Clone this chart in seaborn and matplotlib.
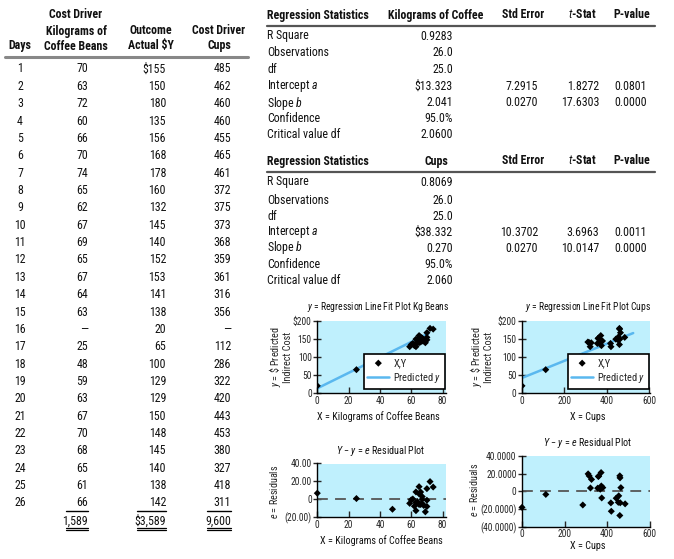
import matplotlib

matplotlib.use("Agg")

import matplotlib.pyplot as plt
import numpy as np
import pandas as pd
import seaborn as sns
from matplotlib import font_manager
from matplotlib.lines import Line2D

# ---- data -------------------------------------------------------------
days = list(range(1, 27))
kg_beans = [70, 63, 72, 60, 66, 70, 74, 65, 62, 67, 69, 65, 67,
            64, 63, 0, 25, 48, 59, 63, 67, 70, 68, 65, 61, 66]
outcome = [155, 150, 180, 135, 156, 168, 178, 160, 132, 145, 140, 152, 153,
           141, 138, 20, 65, 100, 129, 129, 150, 148, 145, 140, 138, 142]
cups = [485, 462, 460, 460, 455, 465, 461, 372, 375, 373, 368, 359, 361,
        316, 356, 0, 112, 286, 322, 420, 443, 453, 380, 327, 418, 311]

kg_resid = [-1.2, 8.1, 19.7, -0.8, 8.0, 11.8, 13.6, 14.0, -7.9, -5.1, -14.2, 6.0, 2.9,
            -3.0, -3.9, 6.7, 0.7, -11.3, -4.7, -12.9, -0.1, -8.2, -7.1, -6.0, 0.2, -6.0]
cups_resid = [-14.3, -13.1, 17.5, -27.5, -5.2, 4.1, 15.2, 21.2, -7.6, 6.0, 2.3, 16.7, 17.2,
              17.4, 3.5, -18.3, -3.6, -15.6, 3.7, -22.7, -7.9, -12.6, 4.1, 13.4, -13.2, 19.7]

kg_line_x = [0, 71]
kg_line_y = [13, 166]
cups_line_x = [0, 525]
cups_line_y = [42, 167]

stat_labels = ["R Square", "Observations", "df", r"Intercept $\it{a}$",
               r"Slope $\it{b}$", "Confidence", "Critical value df"]
kg_stats = ["0.9283", "26.0", "25.0", "$13.323", "2.041", "95.0%", "2.0600"]
cups_stats = ["0.8069", "26.0", "25.0", "$38.332", "0.270", "95.0%", "2.060"]
kg_coef = [["7.2915", "1.8272", "0.0801"], ["0.0270", "17.6303", "0.0000"]]
cups_coef = [["10.3702", "3.6963", "0.0011"], ["0.0270", "10.0147", "0.0000"]]

# ---- style ------------------------------------------------------------
W, H = 674, 559
sns.set_theme(style="white")

# pick a narrow face if one is installed, otherwise shrink a normal one
fonts = font_manager.fontManager.ttflist
names = {f.name for f in fonts}
family, stretch, scale = "Liberation Sans", "normal", 0.86
if "Liberation Sans Narrow" in names:
    family, scale = "Liberation Sans Narrow", 1.0
elif "Roboto Condensed" in names:
    family, scale = "Roboto Condensed", 1.07
elif any(f.name == "DejaVu Sans" and f.stretch == "condensed" for f in fonts):
    family, stretch, scale = "DejaVu Sans", "condensed", 0.86

plt.rcParams["font.family"] = [family, "DejaVu Sans"]
plt.rcParams["font.stretch"] = stretch
plt.rcParams["mathtext.fontset"] = "custom"
plt.rcParams["mathtext.rm"] = family
plt.rcParams["mathtext.it"] = family + ":italic"
plt.rcParams["mathtext.bf"] = family + ":bold"

BG = "#bff0fd"
LINE = "#5ab8ef"
FS = 8 * scale
REG = "normal"

fig = plt.figure(figsize=(W / 100, H / 100), dpi=100)


def txt(x, y, s, ha="left", weight=REG, size=FS, **kw):
    fig.text(x / W, 1 - y / H, s, ha=ha, va="center", fontsize=size,
             fontweight=weight, color="#111111", **kw)


def hline(x0, x1, y, lw=1.0, color="black"):
    fig.add_artist(Line2D([x0 / W, x1 / W], [1 - y / H, 1 - y / H],
                          transform=fig.transFigure, color=color, lw=lw))


def rect(l, t, r, b):
    return [l / W, 1 - b / H, (r - l) / W, (b - t) / H]


# ---- left data table --------------------------------------------------
txt(76, 15, "Cost Driver", ha="center", weight="bold")
txt(76, 31, "Kilograms of", ha="center", weight="bold")
txt(76, 46, "Coffee Beans", ha="center", weight="bold")
txt(20, 46, "Days", ha="center", weight="bold")
txt(151, 31, "Outcome", ha="center", weight="bold")
txt(151, 46, "Actual $Y", ha="center", weight="bold")
txt(219, 31, "Cost Driver", ha="center", weight="bold")
txt(219, 46, "Cups", ha="center", weight="bold")
hline(5, 248, 57, lw=2.2, color="#888888")

for i, d in enumerate(days):
    y = 69 + i * 17.36
    txt(20, y, str(d), ha="center")
    txt(88, y, "—" if kg_beans[i] == 0 else str(kg_beans[i]), ha="right")
    txt(166, y, (f"${outcome[i]}" if i == 0 else str(outcome[i])), ha="right")
    txt(231, y, "—" if cups[i] == 0 else str(cups[i]), ha="right")

hline(66, 88, 511, lw=1.0)
hline(137, 166, 511, lw=1.0)
hline(207, 231, 511, lw=1.0)
txt(88, 521, f"{sum(kg_beans):,}", ha="right")
txt(166, 521, f"${sum(outcome):,}", ha="right")
txt(231, 521, f"{sum(cups):,}", ha="right")
for x0, x1 in [(66, 88), (137, 166), (207, 231)]:
    hline(x0, x1, 527.5, lw=0.9)
    hline(x0, x1, 529.5, lw=0.9)

# ---- regression statistics tables -------------------------------------
def stats_table(top, header, values, coef, rows):
    txt(267, top, "Regression Statistics", weight="bold")
    txt(436, top, header, ha="center", weight="bold")
    txt(523, top, "Std Error", ha="center", weight="bold")
    txt(582, top, r"$\it{t}$-Stat", ha="center", weight="bold")
    txt(632, top, "P-value", ha="center", weight="bold")
    hline(267, 655, top + 10.5, lw=1.6, color="#555555")
    for lab, val, y in zip(stat_labels, values, rows):
        txt(267, y, lab)
        txt(453, y, val, ha="right")
    for (se, ts, pv), y in zip(coef, rows[3:5]):
        txt(538, y, se, ha="right")
        txt(599, y, ts, ha="right")
        txt(647, y, pv, ha="right")


stats_table(15, "Kilograms of Coffee", kg_stats, kg_coef,
            [36, 53, 70, 86, 103, 119, 135])
stats_table(161, "Cups", cups_stats, cups_coef,
            [182, 200, 216, 232, 248, 264, 280])

# ---- charts -----------------------------------------------------------
fit_df = pd.DataFrame({"kg": kg_beans, "cups": cups, "y": outcome,
                       "kg_e": kg_resid, "cups_e": cups_resid})
TICK_FS = 6.4 * scale
SMALL_FS = 6.8 * scale


def style_axes(ax):
    ax.set_facecolor(BG)
    for side in ["top", "right"]:
        ax.spines[side].set_visible(False)
    for side in ["left", "bottom"]:
        ax.spines[side].set_color("black")
        ax.spines[side].set_linewidth(1.0)
    ax.tick_params(axis="y", direction="inout", length=6, width=1,
                   labelsize=TICK_FS, pad=1, left=True)
    ax.tick_params(axis="x", direction="in", length=4, width=1,
                   labelsize=TICK_FS, pad=2, bottom=True)
    ax.set_xlabel("")
    ax.set_ylabel("")


def fit_plot(box, xcol, line_x, line_y, xlim, xticks, title, tx, xlab, ylab_x):
    ax = fig.add_axes(rect(*box))
    sns.scatterplot(data=fit_df, x=xcol, y="y", marker="D", s=13, color="black",
                    edgecolor="none", ax=ax, label="X,Y", zorder=3)
    sns.lineplot(x=line_x, y=line_y, color=LINE, lw=1.8, ax=ax,
                 label=r"Predicted $\it{y}$", zorder=2)
    ax.set_xlim(*xlim)
    ax.set_ylim(0, 202)
    ax.set_xticks(xticks)
    ax.set_yticks([0, 50, 100, 150, 200], ["0", "50", "100", "150", "$200"])
    style_axes(ax)
    leg = ax.legend(loc="lower right", bbox_to_anchor=(0.995, 0.06),
                    fontsize=7 * scale, frameon=True, fancybox=False,
                    borderpad=0.35, handlelength=2.1, handletextpad=0.4,
                    labelspacing=0.3, borderaxespad=0)
    leg.get_frame().set_edgecolor("black")
    leg.get_frame().set_linewidth(1.2)
    leg.get_frame().set_alpha(1)
    txt(tx, 307, title, ha="center", size=6.5 * scale)
    txt(tx, 417, xlab, ha="center", size=SMALL_FS)
    fig.text(ylab_x / W, 1 - 357 / H, r"$\it{y}$ = \$ Predicted" + "\nIndirect Cost",
             rotation=90, ha="center", va="center", fontsize=SMALL_FS,
             linespacing=1.0)
    return ax


fit_plot((317.3, 320.5, 445.7, 393), "kg", kg_line_x, kg_line_y, (0, 82),
         [0, 20, 40, 60, 80], r"$\it{y}$ = Regression Line Fit Plot Kg Beans", 378,
         "X = Kilograms of Coffee Beans", 280)
fit_plot((522, 320.5, 649.5, 393), "cups", cups_line_x, cups_line_y, (0, 602),
         [0, 200, 400, 600], r"$\it{y}$ = Regression Line Fit Plot Cups", 588,
         "X = Cups", 481)

RES_TITLE = r"$\it{Y}$ − $\it{y}$ = $\it{e}$ Residual Plot"


def resid_plot(box, xcol, xlim, xticks, ylim, yticks, ylabels, ty, tx, xlab_y,
               ylab_x, ylab_y):
    ax = fig.add_axes(rect(*box))
    ax.axhline(0, color="#555555", lw=1.3, ls=(0, (6, 4)), zorder=2)
    sns.scatterplot(data=fit_df, x=xcol, y=f"{xcol}_e", marker="D", s=13,
                    color="black", edgecolor="none", ax=ax, zorder=3, clip_on=False)
    ax.set_xlim(*xlim)
    ax.set_ylim(*ylim)
    ax.set_xticks(xticks)
    ax.set_yticks(yticks, ylabels)
    style_axes(ax)
    txt(tx, ty, RES_TITLE, ha="center", size=6.8 * scale)
    txt(tx, xlab_y, "X = Kilograms of Coffee Beans" if xcol == "kg" else "X = Cups",
        ha="center", size=SMALL_FS)
    fig.text(ylab_x / W, 1 - ylab_y / H, r"$\it{e}$ = Residuals", rotation=90,
             ha="center", va="center", fontsize=SMALL_FS)
    return ax


resid_plot((317.3, 463.5, 445.7, 517), "kg", (0, 82), [0, 20, 40, 60, 80],
           (-20, 40), [-20, 0, 20, 40], ["(20.00)", "0", "20.00", "40.00"],
           451, 381, 541, 274, 492)
resid_plot((522, 456, 650, 526.5), "cups", (0, 602), [0, 200, 400, 600],
           (-40, 40), [-40, -20, 0, 20, 40],
           ["(40.0000)", "(20.0000)", "0", "20.0000", "40.0000"],
           443, 588, 546, 474, 490)

fig.savefig("out.png", dpi=100)
plt.close(fig)
